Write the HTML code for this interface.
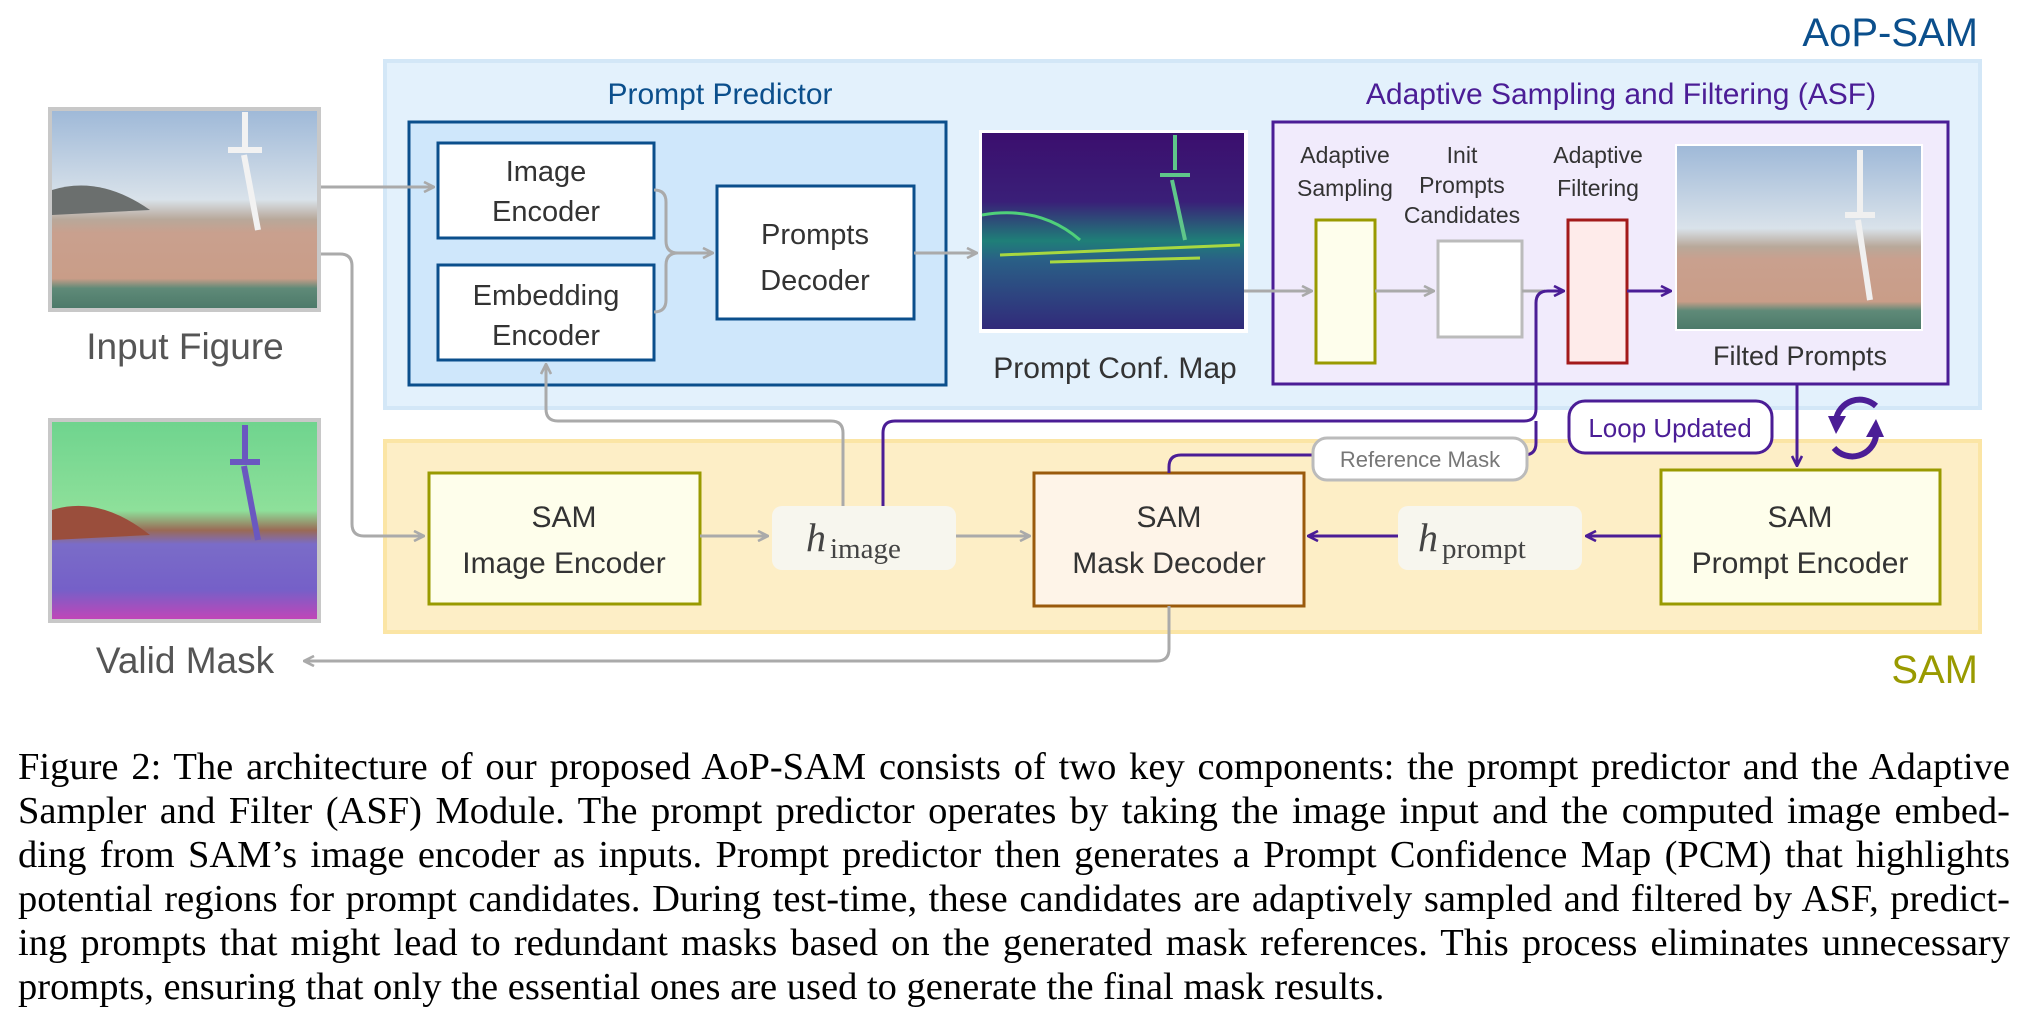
<!DOCTYPE html>
<html><head><meta charset="utf-8"><style>
html,body{margin:0;padding:0;background:#fff;}
body{width:2024px;height:1018px;position:relative;overflow:hidden;}
svg{position:absolute;left:0;top:0;}
.cap{position:absolute;left:18px;width:1992px;font-family:"Liberation Serif",serif;font-size:38.5px;line-height:44px;color:#000;text-align:justify;text-align-last:justify;white-space:nowrap;}
.cap.last{text-align-last:left;}
</style></head><body>
<svg width="2024" height="1018" viewBox="0 0 2024 1018" font-family="Liberation Sans, sans-serif">
<defs>
<marker id="ag" viewBox="0 0 12 12" refX="11" refY="6" markerWidth="12" markerHeight="12" markerUnits="userSpaceOnUse" orient="auto"><path d="M1,1 L11,6 L1,11" fill="none" stroke="#aaa" stroke-width="2.6"/></marker>
<marker id="ap" viewBox="0 0 12 12" refX="11" refY="6" markerWidth="12" markerHeight="12" markerUnits="userSpaceOnUse" orient="auto"><path d="M1,1 L11,6 L1,11" fill="none" stroke="#4b1d96" stroke-width="2.6"/></marker>
<linearGradient id="sky" x1="0" y1="0" x2="0" y2="1"><stop offset="0" stop-color="#9fb9d8"/><stop offset="0.45" stop-color="#d9e2ea"/><stop offset="0.55" stop-color="#b8a89a"/><stop offset="0.62" stop-color="#c9a08e"/><stop offset="0.85" stop-color="#c99d88"/><stop offset="0.9" stop-color="#5f8a78"/><stop offset="1" stop-color="#4d7a6a"/></linearGradient>
<linearGradient id="cm" x1="0" y1="0" x2="0" y2="1"><stop offset="0" stop-color="#3b0f6e"/><stop offset="0.35" stop-color="#3a1f78"/><stop offset="0.55" stop-color="#1f7f78"/><stop offset="0.65" stop-color="#2a5f86"/><stop offset="1" stop-color="#312a7a"/></linearGradient>
<linearGradient id="vm" x1="0" y1="0" x2="0" y2="1"><stop offset="0" stop-color="#6fd48e"/><stop offset="0.45" stop-color="#8ee09a"/><stop offset="0.55" stop-color="#9a6a55"/><stop offset="0.62" stop-color="#7a6cc8"/><stop offset="0.85" stop-color="#7560c8"/><stop offset="1" stop-color="#c046b8"/></linearGradient>
</defs>

<text x="1978" y="46" text-anchor="end" font-size="40" fill="#0b4f8c">AoP-SAM</text>
<rect x="385" y="61" width="1595" height="347" fill="#e3f1fc" stroke="#d3e7f7" stroke-width="4"/>
<text x="720" y="104" text-anchor="middle" font-size="30" fill="#0b4f8c">Prompt Predictor</text>
<rect x="409" y="122" width="537" height="263" fill="#cfe7fb" stroke="#0b4f8c" stroke-width="3"/>
<rect x="438" y="143" width="216" height="95" fill="#fff" stroke="#0b4f8c" stroke-width="3"/>
<text x="546" y="181" text-anchor="middle" font-size="29" fill="#333">Image</text>
<text x="546" y="221" text-anchor="middle" font-size="29" fill="#333">Encoder</text>
<rect x="438" y="265" width="216" height="95" fill="#fff" stroke="#0b4f8c" stroke-width="3"/>
<text x="546" y="305" text-anchor="middle" font-size="29" fill="#333">Embedding</text>
<text x="546" y="345" text-anchor="middle" font-size="29" fill="#333">Encoder</text>
<rect x="717" y="186" width="197" height="133" fill="#fff" stroke="#0b4f8c" stroke-width="3"/>
<text x="815" y="244" text-anchor="middle" font-size="29" fill="#333">Prompts</text>
<text x="815" y="290" text-anchor="middle" font-size="29" fill="#333">Decoder</text>

<rect x="979" y="130" width="269" height="203" fill="#fff"/>
<rect x="982" y="133" width="262" height="196" fill="url(#cm)"/>
<path d="M982,215 Q1040,205 1080,240" stroke="#4fd07a" stroke-width="3" fill="none"/>
<path d="M1175,135 L1175,170 M1160,175 L1190,175 M1172,180 L1185,240" stroke="#5fc68a" stroke-width="4" fill="none"/>
<path d="M1000,255 L1240,245 M1050,262 L1200,258" stroke="#a8d840" stroke-width="3" fill="none"/>
<text x="1115" y="378" text-anchor="middle" font-size="30" fill="#333">Prompt Conf. Map</text>

<text x="1621" y="104" text-anchor="middle" font-size="30" fill="#4b1d96">Adaptive Sampling and Filtering (ASF)</text>
<rect x="1273" y="122" width="675" height="262" fill="#f1ebfc" stroke="#4b1d96" stroke-width="3"/>
<text x="1345" y="163" text-anchor="middle" font-size="23" fill="#333">Adaptive</text>
<text x="1345" y="196" text-anchor="middle" font-size="23" fill="#333">Sampling</text>
<text x="1462" y="163" text-anchor="middle" font-size="23" fill="#333">Init</text>
<text x="1462" y="193" text-anchor="middle" font-size="23" fill="#333">Prompts</text>
<text x="1462" y="223" text-anchor="middle" font-size="23" fill="#333">Candidates</text>
<text x="1598" y="163" text-anchor="middle" font-size="23" fill="#333">Adaptive</text>
<text x="1598" y="196" text-anchor="middle" font-size="23" fill="#333">Filtering</text>
<rect x="1316" y="220" width="59" height="143" fill="#fefeec" stroke="#999a00" stroke-width="3"/>
<rect x="1438" y="241" width="84" height="96" fill="#fff" stroke="#bbb" stroke-width="3"/>
<rect x="1568" y="220" width="59" height="143" fill="#feebea" stroke="#a31a1a" stroke-width="3"/>
<rect x="1675" y="144" width="248" height="187" fill="#fff"/>
<rect x="1677" y="146" width="244" height="183" fill="url(#sky)"/>
<path d="M1860,150 L1860,215 M1845,215 L1875,215 M1858,220 L1870,300" stroke="#f0f0f0" stroke-width="6"/>
<text x="1800" y="365" text-anchor="middle" font-size="27" fill="#333">Filted Prompts</text>

<rect x="48" y="107" width="273" height="205" fill="#c8c8c8"/>
<rect x="52" y="111" width="265" height="197" fill="url(#sky)"/>
<path d="M52,190 Q100,175 150,210 L52,215 Z" fill="#6b6f6e"/>
<path d="M245,112 L245,150 M228,150 L262,150 M244,155 L258,230" stroke="#f2f2f2" stroke-width="6"/>
<text x="185" y="359" text-anchor="middle" font-size="37" fill="#555">Input Figure</text>

<rect x="48" y="418" width="273" height="205" fill="#c8c8c8"/>
<rect x="52" y="422" width="265" height="197" fill="url(#vm)"/>
<path d="M52,510 Q100,495 150,535 L52,540 Z" fill="#9a4e3c"/>
<path d="M245,425 L245,460 M230,462 L260,462 M244,466 L258,540" stroke="#6a58c0" stroke-width="6"/>
<text x="185" y="673" text-anchor="middle" font-size="37" fill="#555">Valid Mask</text>

<rect x="385" y="441" width="1595" height="191" fill="#fdeec6" stroke="#fbe5a5" stroke-width="4"/>
<text x="1978" y="683" text-anchor="end" font-size="40" fill="#999a00">SAM</text>
<rect x="429" y="473" width="271" height="131" fill="#fefeeb" stroke="#999a00" stroke-width="3"/>
<text x="564" y="527" text-anchor="middle" font-size="30" fill="#333">SAM</text>
<text x="564" y="573" text-anchor="middle" font-size="30" fill="#333">Image Encoder</text>
<rect x="1034" y="473" width="270" height="133" fill="#fef4e8" stroke="#9a5a0c" stroke-width="3"/>
<text x="1169" y="527" text-anchor="middle" font-size="30" fill="#333">SAM</text>
<text x="1169" y="573" text-anchor="middle" font-size="30" fill="#333">Mask Decoder</text>
<rect x="1661" y="470" width="279" height="134" fill="#fefeeb" stroke="#999a00" stroke-width="3"/>
<text x="1800" y="527" text-anchor="middle" font-size="30" fill="#333">SAM</text>
<text x="1800" y="573" text-anchor="middle" font-size="30" fill="#333">Prompt Encoder</text>
<rect x="772" y="506" width="184" height="64" rx="10" fill="#f7f6ee"/>
<text x="806" y="551" font-family="Liberation Serif, serif" font-style="italic" font-size="40" fill="#444">h</text>
<text x="830" y="558" font-family="Liberation Serif, serif" font-size="29" fill="#444">image</text>
<rect x="1398" y="506" width="184" height="64" rx="10" fill="#f7f6ee"/>
<text x="1418" y="551" font-family="Liberation Serif, serif" font-style="italic" font-size="40" fill="#444">h</text>
<text x="1442" y="558" font-family="Liberation Serif, serif" font-size="29" fill="#444">prompt</text>

<g fill="none" stroke="#aaa" stroke-width="3">
<path d="M321,187 L434,187" marker-end="url(#ag)"/>
<path d="M321,254 L340,254 Q352,254 352,266 L352,524 Q352,536 364,536 L424,536" marker-end="url(#ag)"/>
<path d="M654,190 Q666,190 666,202 L666,241 Q666,253 678,253 L713,253" marker-end="url(#ag)"/>
<path d="M654,312 Q666,312 666,300 L666,265 Q666,253 678,253"/>
<path d="M914,253 L977,253" marker-end="url(#ag)"/>
<path d="M1244,291 L1312,291" marker-end="url(#ag)"/>
<path d="M1375,291 L1434,291" marker-end="url(#ag)"/>
<path d="M1522,291 L1545,291"/>
<path d="M700,536 L768,536" marker-end="url(#ag)"/>
<path d="M956,536 L1030,536" marker-end="url(#ag)"/>
<path d="M843,506 L843,433 Q843,421 831,421 L558,421 Q546,421 546,409 L546,364" marker-end="url(#ag)"/>
<path d="M1169,606 L1169,649 Q1169,661 1157,661 L304,661" marker-end="url(#ag)"/>
</g>
<g fill="none" stroke="#4b1d96" stroke-width="3">
<path d="M883,506 L883,433 Q883,421 895,421 L1524,421 Q1536,421 1536,409 L1536,303 Q1536,291 1548,291 L1564,291" marker-end="url(#ap)"/>
<path d="M1627,291 L1671,291" marker-end="url(#ap)"/>
<path d="M1169,473 L1169,467 Q1169,455 1181,455 L1524,455 Q1536,455 1536,443 L1536,421"/>
<path d="M1797,384 L1797,466" marker-end="url(#ap)"/>
<path d="M1661,536 L1586,536" marker-end="url(#ap)"/>
<path d="M1398,536 L1308,536" marker-end="url(#ap)"/>
</g>
<rect x="1313" y="438" width="214" height="42" rx="14" fill="#fff" stroke="#bbb" stroke-width="3"/>
<text x="1420" y="467" text-anchor="middle" font-size="22" fill="#777">Reference Mask</text>
<rect x="1569" y="401" width="203" height="52" rx="16" fill="#fff" stroke="#4b1d96" stroke-width="3"/>
<text x="1670" y="437" text-anchor="middle" font-size="26" fill="#4b1d96">Loop Updated</text>
<g fill="none" stroke="#4b1d96" stroke-width="6">
<path d="M1876,406 A24,24 0 0 0 1836,420"/>
<path d="M1834,448 A24,24 0 0 0 1876,436"/>
</g>
<path d="M1828,416 L1846,416 L1836,434 Z" fill="#4b1d96"/>
<path d="M1866,437 L1884,437 L1876,419 Z" fill="#4b1d96"/>
</svg>
<div class="cap" style="top:745px">Figure 2: The architecture of our proposed AoP-SAM consists of two key components: the prompt predictor and the Adaptive</div>
<div class="cap" style="top:789px">Sampler and Filter (ASF) Module. The prompt predictor operates by taking the image input and the computed image embed-</div>
<div class="cap" style="top:833px">ding from SAM’s image encoder as inputs. Prompt predictor then generates a Prompt Confidence Map (PCM) that highlights</div>
<div class="cap" style="top:877px">potential regions for prompt candidates. During test-time, these candidates are adaptively sampled and filtered by ASF, predict-</div>
<div class="cap" style="top:921px">ing prompts that might lead to redundant masks based on the generated mask references. This process eliminates unnecessary</div>
<div class="cap last" style="top:965px">prompts, ensuring that only the essential ones are used to generate the final mask results.</div>
</body></html>
